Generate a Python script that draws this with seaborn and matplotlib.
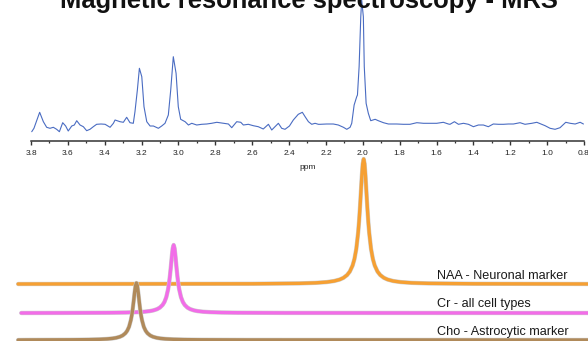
import numpy as np
import pandas as pd
import matplotlib
matplotlib.use("Agg")
import matplotlib.pyplot as plt
import matplotlib.patheffects as pe
from matplotlib.ticker import MultipleLocator, FormatStrFormatter
import seaborn as sns

# ---------------- data ----------------
title = "Magnetic resonance spectroscopy - MRS"

# measured spectrum (ppm, intensity a.u.)
spec_ppm = [3.796, 3.784, 3.753, 3.733, 3.715, 3.697, 3.679, 3.661, 3.646, 3.628,
            3.612, 3.598, 3.579, 3.565, 3.552, 3.534, 3.516, 3.498, 3.480, 3.462,
            3.444, 3.420, 3.398, 3.371, 3.353, 3.344, 3.317, 3.299, 3.281, 3.263,
            3.245, 3.236, 3.223, 3.212, 3.199, 3.187, 3.172, 3.154, 3.136, 3.109,
            3.091, 3.073, 3.055, 3.042, 3.028, 3.013, 3.001, 2.988, 2.964, 2.946,
            2.928, 2.901, 2.874, 2.847, 2.820, 2.792, 2.757, 2.729, 2.711, 2.684,
            2.662, 2.648, 2.621, 2.594, 2.567, 2.540, 2.512, 2.494, 2.476, 2.458,
            2.440, 2.422, 2.398, 2.377, 2.350, 2.328, 2.313, 2.295, 2.277, 2.259,
            2.241, 2.232, 2.196, 2.160, 2.133, 2.105, 2.087, 2.069, 2.060, 2.047,
            2.033, 2.029, 2.020, 2.011, 2.006, 1.997, 1.992, 1.982, 1.970, 1.957,
            1.933, 1.916, 1.888, 1.861, 1.816, 1.780, 1.744, 1.707, 1.671, 1.635,
            1.599, 1.563, 1.536, 1.527, 1.503, 1.481, 1.454, 1.427, 1.400, 1.373,
            1.346, 1.319, 1.292, 1.264, 1.237, 1.210, 1.183, 1.147, 1.120, 1.083,
            1.056, 1.029, 1.011, 0.984, 0.957, 0.930, 0.899, 0.875, 0.848, 0.821,
            0.803]
spec_int = [3.3, 6.7, 22.7, 13.3, 7.7, 6.7, 7.7, 5.7, 3.3, 12.3,
            9.0, 4.0, 9.0, 10.0, 14.3, 10.0, 8.3, 4.3, 5.7, 8.3,
            10.7, 11.0, 10.7, 7.7, 11.7, 15.0, 13.3, 12.7, 17.7, 12.3,
            11.7, 23.3, 45.0, 66.7, 58.3, 28.3, 13.3, 9.0, 9.0, 6.7,
            9.0, 11.7, 20.0, 45.0, 78.3, 61.7, 28.3, 15.7, 13.3, 10.0,
            11.7, 10.0, 10.7, 11.0, 11.7, 12.7, 11.7, 11.0, 7.3, 13.3,
            12.7, 10.0, 10.7, 9.3, 8.3, 6.0, 10.7, 5.0, 8.3, 11.7,
            6.7, 5.7, 9.0, 15.0, 20.7, 22.7, 18.3, 13.3, 10.7, 11.7,
            10.7, 10.7, 11.0, 11.0, 10.0, 7.7, 5.7, 7.7, 11.7, 30.0,
            38.3, 40.0, 68.3, 118.3, 135.0, 118.3, 68.3, 31.7, 21.7, 14.3,
            15.7, 14.3, 12.3, 11.0, 11.0, 10.7, 10.7, 12.3, 11.7, 11.7,
            11.7, 12.7, 11.0, 10.7, 13.3, 10.7, 11.7, 10.7, 8.3, 10.0,
            10.0, 8.3, 11.0, 10.7, 10.7, 11.0, 11.0, 12.3, 10.7, 11.7,
            12.7, 10.7, 9.3, 6.7, 5.7, 7.3, 12.7, 11.7, 11.0, 12.7,
            11.0]

tick_values = [3.8, 3.6, 3.4, 3.2, 3.0, 2.8, 2.6, 2.4, 2.2, 2.0, 1.8, 1.6, 1.4, 1.2, 1.0, 0.8]

# fitted metabolite peaks (ppm, intensity a.u.)
naa_ppm = [3.870, 2.595, 2.345, 2.255, 2.195, 2.155, 2.125, 2.105, 2.085, 2.070,
           2.055, 2.045, 2.035, 2.025, 2.020, 2.015, 2.010, 2.005, 2.000, 1.995,
           1.990, 1.985, 1.980, 1.975, 1.970, 1.965, 1.955, 1.945, 1.935, 1.920,
           1.905, 1.885, 1.865, 1.835, 1.795, 1.735, 1.645, 1.395, 0.700]
naa_int = [0.0, 0.22, 0.64, 1.15, 1.93, 2.98, 4.46, 6.14, 8.95, 12.5,
           18.5, 25.0, 35.1, 51.3, 62.5, 76.3, 91.9, 107.8, 120.3, 125.0,
           120.3, 107.8, 91.9, 76.3, 62.5, 51.3, 35.1, 25.0, 18.5, 12.5,
           8.95, 6.14, 4.46, 2.98, 1.93, 1.15, 0.64, 0.22, 0.0]
cr_ppm = [3.853, 3.626, 3.376, 3.286, 3.226, 3.186, 3.156, 3.136, 3.116, 3.101,
          3.086, 3.076, 3.066, 3.056, 3.051, 3.046, 3.041, 3.036, 3.031, 3.026,
          3.021, 3.016, 3.011, 3.006, 3.001, 2.996, 2.986, 2.976, 2.966, 2.951,
          2.936, 2.916, 2.896, 2.866, 2.826, 2.766, 2.676, 2.426, 0.700]
cr_int = [0.0, 0.09, 0.27, 0.48, 0.82, 1.26, 1.89, 2.62, 3.84, 5.39,
          8.06, 11.0, 15.8, 23.8, 29.7, 37.3, 46.4, 56.4, 64.7, 68.0,
          64.7, 56.4, 46.4, 37.3, 29.7, 23.8, 15.8, 11.0, 8.06, 5.39,
          3.84, 2.62, 1.89, 1.26, 0.82, 0.48, 0.27, 0.09, 0.0]
cho_ppm = [3.870, 3.828, 3.578, 3.488, 3.428, 3.388, 3.358, 3.338, 3.318, 3.303,
           3.288, 3.278, 3.268, 3.258, 3.253, 3.248, 3.243, 3.238, 3.233, 3.228,
           3.223, 3.218, 3.213, 3.208, 3.203, 3.198, 3.188, 3.178, 3.168, 3.153,
           3.138, 3.118, 3.098, 3.068, 3.028, 2.968, 2.878, 2.628, 0.700]
cho_int = [0.0, 0.08, 0.22, 0.40, 0.68, 1.06, 1.58, 2.19, 3.21, 4.51,
           6.75, 9.25, 13.2, 20.0, 24.9, 31.2, 38.9, 47.3, 54.2, 57.0,
           54.2, 47.3, 38.9, 31.2, 24.9, 20.0, 13.2, 9.25, 6.75, 4.51,
           3.21, 2.19, 1.58, 1.06, 0.68, 0.40, 0.22, 0.08, 0.0]

labels = ["NAA - Neuronal marker", "Cr - all cell types", "Cho - Astrocytic marker"]

# ---------------- style / layout ----------------
W, H = 588, 341
sns.set_theme(style="white")
plt.rcParams["font.family"] = ["Liberation Sans", "DejaVu Sans"]

fig = plt.figure(figsize=(W / 100, H / 100), dpi=100)

# top axes: spectrum
ax = fig.add_axes([31 / W, 1 - 141 / H, (584 - 31) / W, 141 / H])
ax.patch.set_alpha(0)
df_spec = pd.DataFrame({"ppm": spec_ppm, "intensity": spec_int})
sns.lineplot(data=df_spec, x="ppm", y="intensity", ax=ax, color="#4a6cc2",
             linewidth=0.8, estimator=None, sort=False)
ax.set_xlim(3.8, 0.8)
ax.set_ylim(-6, 135)
for s in ["top", "left", "right"]:
    ax.spines[s].set_visible(False)
ax.spines["bottom"].set_color("#333333")
ax.spines["bottom"].set_linewidth(1.1)
ax.set_yticks([])
ax.set_xticks(tick_values)
ax.xaxis.set_major_formatter(FormatStrFormatter("%.1f"))
ax.xaxis.set_minor_locator(MultipleLocator(0.1))
ax.tick_params(axis="x", which="major", direction="out", length=3.2, width=1.0,
               color="#333333", labelsize=6, pad=3, bottom=True, labelcolor="#222222")
ax.tick_params(axis="x", which="minor", direction="out", length=1.6, width=0.9,
               color="#333333", bottom=True)
ax.set_xlabel("ppm", fontsize=6, labelpad=5, color="#222222")
ax.set_ylabel("")

# bottom axes: fitted peaks
x_left = 3.8 + 31 / 184.3
x_right = 3.8 - (W - 31) / 184.3
bx = fig.add_axes([0, 0, 1, 196 / H])
bx.patch.set_alpha(0)

offsets = [0, -29, -56]
colors = ["#f6a033", "#f26de8", "#b08a5a"]
series = [(naa_ppm, naa_int), (cr_ppm, cr_int), (cho_ppm, cho_int)]
for (px, iv), off, col in zip(series, offsets, colors):
    d = pd.DataFrame({"ppm": px, "y": np.array(iv) + off})
    sns.lineplot(data=d, x="ppm", y="y", ax=bx, color=col, linewidth=2.4,
                 estimator=None, sort=False,
                 path_effects=[pe.Stroke(linewidth=3.1, foreground="#cfcfcf"), pe.Normal()])
bx.set_xlim(x_left, x_right)
bx.set_ylim(-57, 139)
bx.set_axis_off()

label_y = [276, 304.3, 331.7]
for txt, yy in zip(labels, label_y):
    fig.text(437 / W, 1 - yy / H, txt, fontsize=9.1, va="center", ha="left", color="#1a1a1a")

fig.text(309 / W, 1 - 8 / H, title, fontsize=18.4, fontweight="bold", ha="center",
         va="baseline", color="#111111")

fig.savefig("out.png", dpi=100)
